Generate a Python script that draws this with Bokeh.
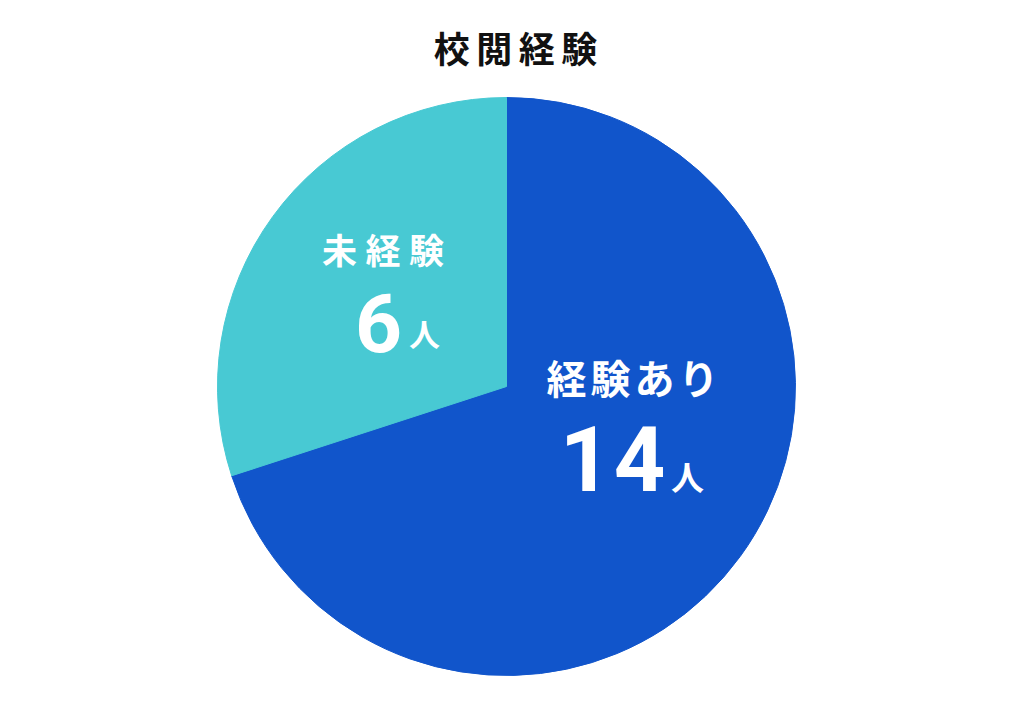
import math
from bokeh.plotting import figure
from bokeh.models import Range1d, ColumnDataSource
from bokeh.core.properties import value
from bokeh.embed import file_html
from bokeh.resources import INLINE

# ---- data ----
title_text = "校閲経験"
categories = ["経験あり", "未経験"]
counts = [14, 6]
unit = "人"
colors = ["#1155CB", "#48C9D3"]

W, H = 1004, 691
p = figure(width=W, height=H, output_backend="svg", toolbar_location=None,
           x_range=Range1d(0, W), y_range=Range1d(0, H),
           min_border=0)
p.axis.visible = False
p.grid.visible = False
p.outline_line_color = None
p.background_fill_color = "white"
p.border_fill_color = "white"

def Y(page_y):
    return H - page_y

cx, cy, r = 506, Y(386), 289
total = sum(counts)
starts, ends = [], []
acc = 0
for c in counts:
    a0 = math.pi / 2 - 2 * math.pi * acc / total
    acc += c
    a1 = math.pi / 2 - 2 * math.pi * acc / total
    starts.append(a0)
    ends.append(a1)

src = ColumnDataSource(dict(start=starts, end=ends, color=colors))
p.wedge(x=cx, y=cy, radius=r, start_angle="start", end_angle="end",
        direction="clock", fill_color="color", line_color="color",
        line_width=1, source=src)

CJK = value("Noto Sans CJK JP")
DIG = value("Roboto")

def spaced(s, center_x, page_y, pitch, size, color, font):
    n = len(s)
    xs = [center_x + (i - (n - 1) / 2) * pitch for i in range(n)]
    p.text(x=xs, y=[Y(page_y)] * n, text=list(s), text_align="center",
           text_baseline="middle", text_font=font, text_font_size=size,
           text_font_style="bold", text_color=color)

# title
spaced(title_text, 515, 46, 42.5, "36px", "#111111", CJK)

# label for 経験あり (14)
spaced(categories[0], 632, 376, 44, "40px", "white", CJK)
spaced(str(counts[0]), 612, 458, 54, "90px", "white", DIG)
spaced(unit, 687, 475, 0, "33px", "white", CJK)

# label for 未経験 (6)
spaced(categories[1], 382.5, 248, 43.5, "35px", "white", CJK)
spaced(str(counts[1]), 378, 322, 0, "82px", "white", DIG)
spaced(unit, 424, 332, 0, "31px", "white", CJK)

open("out.html", "w").write(file_html(p, INLINE))
